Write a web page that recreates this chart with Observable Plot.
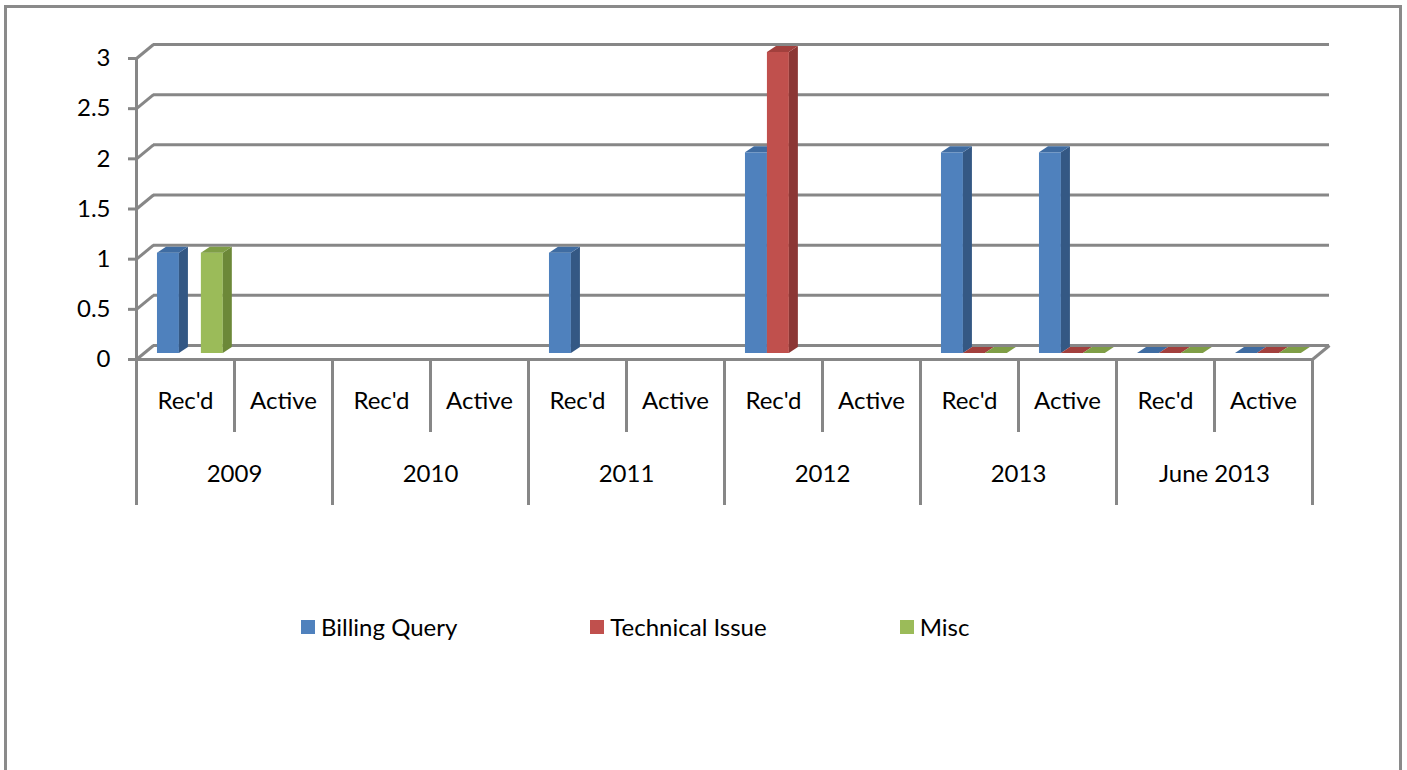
<!DOCTYPE html>
<html>
<head>
<meta charset="utf-8">
<script src="https://cdn.jsdelivr.net/npm/d3@7"></script>
<script src="https://cdn.jsdelivr.net/npm/@observablehq/plot@0.6"></script>
<style>
  html, body { margin: 0; padding: 0; background: #fff; }
  body { width: 1407px; height: 770px; position: relative; overflow: hidden; font-family: Lato, "Noto Sans", sans-serif; }
  #frame { position: absolute; left: 4px; top: 5px; width: 1398px; height: 820px; box-sizing: border-box; border: 3px solid #8a8a8a; }
  #chart { position: absolute; left: 0; top: 0; }
  #legend { position: absolute; left: 301px; top: 612px; display: flex; gap: 133px; align-items: center; font-size: 24px; color: #000; }
  #legend .item { display: flex; align-items: center; white-space: nowrap; }
  #legend .sw { width: 14px; height: 14px; margin-right: 6px; display: inline-block; }
</style>
</head>
<body>
<div id="frame"></div>
<div id="chart"></div>
<div id="legend"></div>
<script>
// ---- data ----
const years = ["2009", "2010", "2011", "2012", "2013", "June 2013"];
const statuses = ["Rec'd", "Active"];
const seriesNames = ["Billing Query", "Technical Issue", "Misc"];
// one value per (year, status) pair, in order: 2009 Rec'd, 2009 Active, 2010 Rec'd, ...
const billingQuery   = [1, null, null, null, 1, null, 2, null, 2, 2, 0, 0];
const technicalIssue = [null, null, null, null, null, null, 3, null, 0, 0, 0, 0];
const misc           = [1, null, null, null, null, null, null, null, 0, 0, 0, 0];
const yTicks = [0, 0.5, 1, 1.5, 2, 2.5, 3];

// ---- styles ----
const frontColors = ["#4F81BD", "#C0504D", "#9BBB59"];
const sideColors  = ["#345884", "#8C3735", "#6C8838"];
const topColors   = ["#3F6CA2", "#A2403D", "#7F9E46"];
const gridColor = "#878787";
const FONT = 24;

const seriesValues = [billingQuery, technicalIssue, misc];
const nCat = years.length * statuses.length;

// depth of the floor (in data units) and bar extrusion
const DX = 17 / 98, DY = 14 / 100.33;
const SX = 9 / 98, SY = 6 / 100.33;
const BAR_OFF = 0.214, BAR_W = 0.224;

const bars = [];
seriesValues.forEach((vals, s) => {
  vals.forEach((v, i) => {
    if (v === null) return;
    const x1 = i + BAR_OFF + s * BAR_W;
    bars.push({id: s + "-" + i, s, i, v, x1, x2: x1 + BAR_W});
  });
});

const barMarks = [];
[0, 1, 2].forEach(s => {
  const rows = bars.filter(d => d.s === s);
  const side = rows.flatMap(d => [
    {z: d.id, x: d.x2, y1: 0, y2: d.v},
    {z: d.id, x: d.x2 + SX, y1: SY, y2: d.v + SY}
  ]);
  const top = rows.flatMap(d => [
    {z: d.id, y: d.v, x1: d.x1, x2: d.x2},
    {z: d.id, y: d.v + SY, x1: d.x1 + SX, x2: d.x2 + SX}
  ]);
  barMarks.push(
    Plot.rect(rows, {x1: "x1", x2: "x2", y1: 0, y2: "v", fill: frontColors[s], dy: -6}),
    Plot.areaY(side, {x: "x", y1: "y1", y2: "y2", z: "z", fill: sideColors[s], dy: -6}),
    Plot.areaX(top, {y: "y", x1: "x1", x2: "x2", z: "z", fill: topColors[s], dy: -6})
  );
});

const subCenters = d3.range(nCat).map(i => i + 0.5);
const yearCenters = d3.range(years.length).map(j => 2 * j + 1);
const subSeps = d3.range(years.length).map(j => 2 * j + 1);
const yearSeps = d3.range(years.length + 1).map(j => 2 * j);

const plot = Plot.plot({
  width: 1407,
  height: 560,
  marginLeft: 136,
  marginRight: 95,
  marginTop: 58,
  marginBottom: 201,
  style: {background: "transparent", fontFamily: "Lato, 'Noto Sans', sans-serif", fontSize: FONT + "px", color: "#000"},
  x: {type: "linear", domain: [0, nCat], axis: null},
  y: {type: "linear", domain: [0, 3], axis: null},
  color: {type: "identity"},
  marks: [
    // back wall gridlines
    Plot.ruleY(yTicks, {y: d => d + DY, x1: DX, x2: nCat + DX, stroke: gridColor, strokeWidth: 3}),
    // side wall connectors
    Plot.link(yTicks, {x1: 0, y1: d => d, x2: DX, y2: d => d + DY, stroke: gridColor, strokeWidth: 3}),
    // floor front and right edges
    Plot.ruleY([0], {x1: 0, x2: nCat, stroke: gridColor, strokeWidth: 3}),
    Plot.link([0], {x1: nCat, y1: 0, x2: nCat + DX, y2: DY, stroke: gridColor, strokeWidth: 3}),
    // vertical axis line
    Plot.ruleX([0], {y1: 0, y2: 3, stroke: gridColor, strokeWidth: 3}),
    Plot.axisY({ticks: yTicks, tickSize: 8, tickPadding: 18, tickFormat: d => String(d), stroke: gridColor, strokeWidth: 3, fill: "#000", fontSize: FONT}),
    // category separators
    Plot.axisX({ticks: subSeps, tickSize: 73, tickFormat: () => "", stroke: gridColor, strokeWidth: 3}),
    Plot.axisX({ticks: yearSeps, tickSize: 146, tickFormat: () => "", stroke: gridColor, strokeWidth: 3}),
    // category labels
    Plot.axisX({ticks: subCenters, tickSize: 0, tickPadding: 32, tickFormat: d => statuses[Math.floor(d) % 2], fill: "#000", fontSize: FONT}),
    Plot.axisX({ticks: yearCenters, tickSize: 0, tickPadding: 105, tickFormat: d => years[(d - 1) / 2], fill: "#000", fontSize: FONT}),
    ...barMarks
  ]
});
document.getElementById("chart").appendChild(plot);

// legend
const legend = document.getElementById("legend");
seriesNames.forEach((name, s) => {
  const item = document.createElement("div");
  item.className = "item";
  const sw = document.createElement("span");
  sw.className = "sw";
  sw.style.background = frontColors[s];
  item.appendChild(sw);
  item.appendChild(document.createTextNode(name));
  legend.appendChild(item);
});
</script>
</body>
</html>
